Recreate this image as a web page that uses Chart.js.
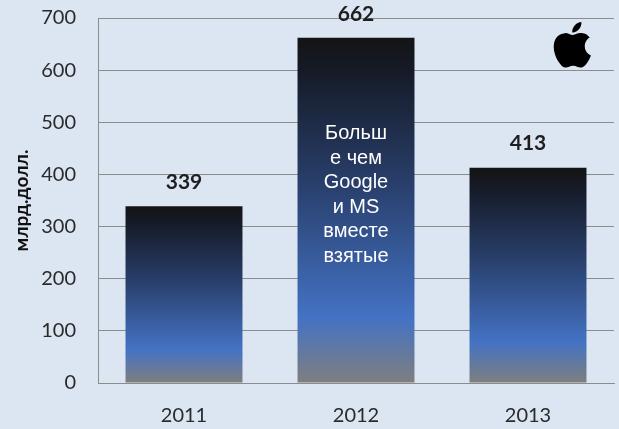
<!DOCTYPE html>
<html>
<head>
<meta charset="utf-8">
<script src="https://cdn.jsdelivr.net/npm/chart.js@4"></script>
<style>
  html, body { margin: 0; padding: 0; background: #dce6f2; }
  #wrap { width: 619px; height: 429px; }
</style>
</head>
<body>
<div id="wrap"><canvas id="c" width="619" height="429"></canvas></div>
<script>
const categories = ['2011', '2012', '2013'];
const values = [339, 662, 413];
const yAxisTitle = 'млрд.долл.';
const yMin = 0, yMax = 700, yStep = 100;
const noteLines = ['Больш', 'е чем', 'Google', 'и MS', 'вместе', 'взятые'];
const noteBarIndex = 1;

Chart.defaults.font.family = 'Lato, "Open Sans", "DejaVu Sans", sans-serif';

const APPLE = 'M12.152 6.896c-.948 0-2.415-1.078-3.96-1.04-2.04.027-3.91 1.183-4.961 3.014-2.117 3.675-.546 9.103 1.519 12.09 1.013 1.454 2.208 3.09 3.792 3.039 1.52-.065 2.09-.987 3.935-.987 1.831 0 2.35.987 3.96.948 1.637-.026 2.676-1.48 3.676-2.948 1.156-1.688 1.636-3.325 1.662-3.415-.039-.013-3.182-1.221-3.220-4.857-.026-3.04 2.48-4.494 2.597-4.559-1.429-2.09-3.623-2.324-4.39-2.376-2-.156-3.675 1.09-4.61 1.09zM15.53 3.83c.843-1.012 1.4-2.427 1.245-3.83-1.207.052-2.662.805-3.532 1.818-.78.896-1.454 2.338-1.273 3.714 1.338.104 2.715-.688 3.559-1.701';

const decor = {
  id: 'decor',
  afterDatasetsDraw(chart) {
    const ctx = chart.ctx;
    const meta = chart.getDatasetMeta(0);
    ctx.save();
    ctx.font = 'bold 21px Lato, "Open Sans", sans-serif';
    ctx.fillStyle = '#1e1e1e';
    ctx.textAlign = 'center';
    ctx.textBaseline = 'middle';
    meta.data.forEach((bar, i) => {
      ctx.fillText(String(values[i]), bar.x, bar.y - 24);
    });
    const nb = meta.data[noteBarIndex];
    ctx.font = '20px "Liberation Sans", Arial, sans-serif';
    ctx.fillStyle = '#ffffff';
    const startY = chart.scales.y.getPixelForValue(478);
    noteLines.forEach((t, k) => {
      ctx.fillText(t, nb.x, startY + k * 24.5);
    });
    ctx.translate(549.5, 22);
    ctx.scale(1.9, 1.9);
    ctx.fillStyle = '#000';
    ctx.fill(new Path2D(APPLE));
    ctx.restore();
  }
};

new Chart(document.getElementById('c'), {
  type: 'bar',
  data: {
    labels: categories,
    datasets: [{
      data: values,
      borderWidth: 0,
      backgroundColor: (c) => {
        const chart = c.chart;
        const { ctx, chartArea, scales } = chart;
        if (!chartArea || c.type !== 'data' || !scales.y) return '#4472c4';
        const top = scales.y.getPixelForValue(c.raw);
        const base = scales.y.getPixelForValue(0);
        const g = ctx.createLinearGradient(0, base, 0, top);
        g.addColorStop(0, '#7f7f7f');
        g.addColorStop(0.19, '#4472c4');
        g.addColorStop(0.6, '#273c66');
        g.addColorStop(0.9, '#161b28');
        g.addColorStop(1, '#141414');
        return g;
      },
      barPercentage: 0.68,
      categoryPercentage: 1
    }]
  },
  options: {
    responsive: false,
    animation: false,
    devicePixelRatio: 1,
    layout: { padding: { top: 18, right: 5, bottom: 0, left: 0 } },
    plugins: { legend: { display: false }, tooltip: { enabled: false } },
    scales: {
      x: {
        afterFit: (s) => { s.height = 46; },
        grid: { display: false, drawTicks: false },
        border: { display: true, color: '#8c8c8c', width: 1 },
        ticks: { color: '#2a2a2a', font: { size: 20 }, padding: 21 }
      },
      y: {
        min: yMin, max: yMax,
        afterFit: (s) => { s.width = 98; },
        ticks: { stepSize: yStep, color: '#2a2a2a', font: { size: 20 }, padding: 4 },
        grid: { color: '#8c8c8c', lineWidth: 1, drawTicks: true, tickLength: 18, tickColor: 'rgba(0,0,0,0)' },
        border: { display: true, color: '#8c8c8c', width: 1 },
        title: {
          display: true, text: yAxisTitle, color: '#111',
          font: { size: 19, weight: 'bold' },
          padding: { top: 10, bottom: 0 }
        }
      }
    }
  },
  plugins: [decor]
});
</script>
</body>
</html>
